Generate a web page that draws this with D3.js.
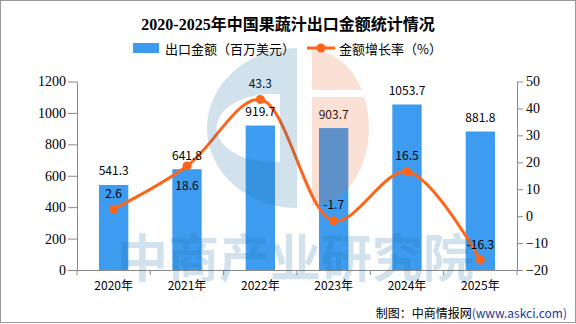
<!DOCTYPE html>
<html>
<head>
<meta charset="utf-8">
<script src="https://cdn.jsdelivr.net/npm/d3@7"></script>
<style>
    body { margin: 0; background: #fff; }
    text { font-family: "Noto Sans CJK SC", sans-serif; }
</style>
</head>
<body>
<svg id="chart" width="576" height="324"></svg>
<script>
    // data
    const years = ["2020年", "2021年", "2022年", "2023年", "2024年", "2025年"];
    const exportValue = [541.3, 641.8, 919.7, 903.7, 1053.7, 881.8];
    const growthRate = [2.6, 18.6, 43.3, -1.7, 16.5, -16.3];
    const rateLabelSide = ["top", "bottom", "top", "top", "top", "top"];
    const leftTicks = [0, 200, 400, 600, 800, 1000, 1200];
    const rightTicks = [-20, -10, 0, 10, 20, 30, 40, 50];

    const barColor = "#3e9cf0";
    const lineColor = "#fe651a";
    const axisColor = "#888";

    const margin = { top: 81.5, right: 59, bottom: 54, left: 77 },
        width = 576 - margin.left - margin.right,
        height = 324 - margin.top - margin.bottom;

    const svg = d3.select("#chart");

    // frame
    svg.append("rect")
        .attr("x", 0.5).attr("y", 0.5)
        .attr("width", 575).attr("height", 322)
        .attr("fill", "#fff").attr("stroke", "#999");

    // title
    svg.append("text")
        .attr("x", 288).attr("y", 24)
        .attr("text-anchor", "middle")
        .attr("dominant-baseline", "central")
        .style("font-family", "'Liberation Serif', 'Noto Sans CJK SC', serif")
        .style("font-weight", "bold")
        .style("font-size", "16px")
        .text("2020-2025年中国果蔬汁出口金额统计情况");

    // legend
    const legend = svg.append("g").style("font-size", "13px");
    legend.append("rect").attr("x", 133).attr("y", 43).attr("width", 26).attr("height", 10).attr("fill", barColor);
    legend.append("text").attr("x", 165).attr("y", 48).attr("dominant-baseline", "central").text("出口金额（百万美元）");
    legend.append("line").attr("x1", 307).attr("x2", 335).attr("y1", 48).attr("y2", 48)
        .attr("stroke", lineColor).attr("stroke-width", 3);
    legend.append("circle").attr("cx", 321).attr("cy", 48).attr("r", 4.5).attr("fill", lineColor);
    legend.append("text").attr("x", 339).attr("y", 48).attr("dominant-baseline", "central").text("金额增长率（%）");

    const g = svg.append("g")
        .attr("transform", "translate(" + margin.left + "," + margin.top + ")");

    // scales
    const x = d3.scaleBand().domain(years).range([0, width]);
    const yL = d3.scaleLinear().domain([0, 1200]).range([height, 0]);
    const yR = d3.scaleLinear().domain([-20, 50]).range([height, 0]);

    // left axis
    const axL = g.append("g")
        .call(d3.axisLeft(yL).tickValues(leftTicks).tickFormat(d3.format("d"))
            .tickSize(9).tickSizeOuter(0).tickPadding(2));
    axL.selectAll("text").style("font-family", "'Liberation Serif', serif").style("font-size", "14px").attr("fill", "#000");

    // right axis
    const axR = g.append("g")
        .attr("transform", "translate(" + width + ",0)")
        .call(d3.axisRight(yR).tickValues(rightTicks).tickSize(6).tickSizeOuter(0).tickPadding(3));
    axR.selectAll("text").style("font-family", "'Liberation Serif', serif").style("font-size", "14px").attr("fill", "#000");

    // bottom axis: labels centred, ticks on category boundaries
    const axB = g.append("g")
        .attr("transform", "translate(0," + height + ")")
        .call(d3.axisBottom(x).tickSize(0).tickPadding(11));
    axB.selectAll("text").style("font-size", "12px").attr("fill", "#000");
    axB.selectAll("line.bound")
        .data(years.map(d => x(d)).concat([width]))
        .join("line")
        .attr("class", "bound")
        .attr("x1", d => d).attr("x2", d => d)
        .attr("y1", 0).attr("y2", 5)
        .attr("stroke", axisColor);

    [axL, axR, axB].forEach(a => {
        a.selectAll(".domain").attr("stroke", axisColor);
        a.selectAll(".tick line").attr("stroke", axisColor);
    });

    // bars
    const barW = x.bandwidth() * 0.4;
    g.selectAll("rect.bar")
        .data(exportValue)
        .join("rect")
        .attr("class", "bar")
        .attr("x", (d, i) => x(years[i]) + x.bandwidth() / 2 - barW / 2)
        .attr("y", d => yL(d))
        .attr("width", barW)
        .attr("height", d => height - yL(d))
        .attr("fill", barColor);

    // watermark (sits over the bars, translucent)
    const wm = svg.append("g").attr("pointer-events", "none");
    wm.append("path")
        .attr("d", "M297,48 A90,80 0 0,0 297,208 Z M280,94.4 A55,34 0 1,0 280,161.6 Z")
        .attr("fill-rule", "evenodd")
        .attr("fill", "rgb(30,110,160)").attr("fill-opacity", 0.2);
    wm.append("path")
        .attr("d", "M312,50 A57,78 0 0,1 361.8,90 L312,90 Z M312,97 L364.3,97 A57,78 0 0,1 312,206 Z")
        .attr("fill", "rgb(234,97,34)").attr("fill-opacity", 0.19);
    wm.append("text")
        .attr("x", 117).attr("y", 255)
        .attr("dominant-baseline", "central")
        .style("font-size", "51px").style("font-weight", "bold")
        .attr("fill", "rgb(30,110,160)").attr("fill-opacity", 0.2)
        .text("中商产业研究院");

    // line
    const pts = growthRate.map((d, i) => [x(years[i]) + x.bandwidth() / 2, yR(d)]);
    g.append("path")
        .attr("d", d3.line().curve(d3.curveCatmullRom.alpha(0.5))(pts))
        .attr("fill", "none")
        .attr("stroke", lineColor)
        .attr("stroke-width", 3);
    g.selectAll("circle.pt")
        .data(pts)
        .join("circle")
        .attr("class", "pt")
        .attr("cx", d => d[0]).attr("cy", d => d[1])
        .attr("r", 4.5)
        .attr("fill", lineColor);

    // labels
    g.selectAll("text.barLabel")
        .data(exportValue)
        .join("text")
        .attr("class", "barLabel")
        .attr("x", (d, i) => x(years[i]) + x.bandwidth() / 2)
        .attr("y", d => yL(d) - 15)
        .attr("text-anchor", "middle")
        .attr("dominant-baseline", "central")
        .style("font-size", "12px")
        .text(d => d.toFixed(1));

    g.selectAll("text.rateLabel")
        .data(growthRate)
        .join("text")
        .attr("class", "rateLabel")
        .attr("x", (d, i) => x(years[i]) + x.bandwidth() / 2)
        .attr("y", (d, i) => yR(d) + (rateLabelSide[i] === "top" ? -17 : 18))
        .attr("text-anchor", "middle")
        .attr("dominant-baseline", "central")
        .style("font-size", "12px")
        .text(d => d.toFixed(1));

    // source note
    const src = svg.append("text")
        .attr("x", 567).attr("y", 312)
        .attr("text-anchor", "end")
        .attr("dominant-baseline", "central")
        .style("font-size", "12px");
    src.append("tspan").text("制图：中商情报网");
    src.append("tspan").attr("fill", "#1e3799").text("(www.askci.com)");
</script>
</body>
</html>
